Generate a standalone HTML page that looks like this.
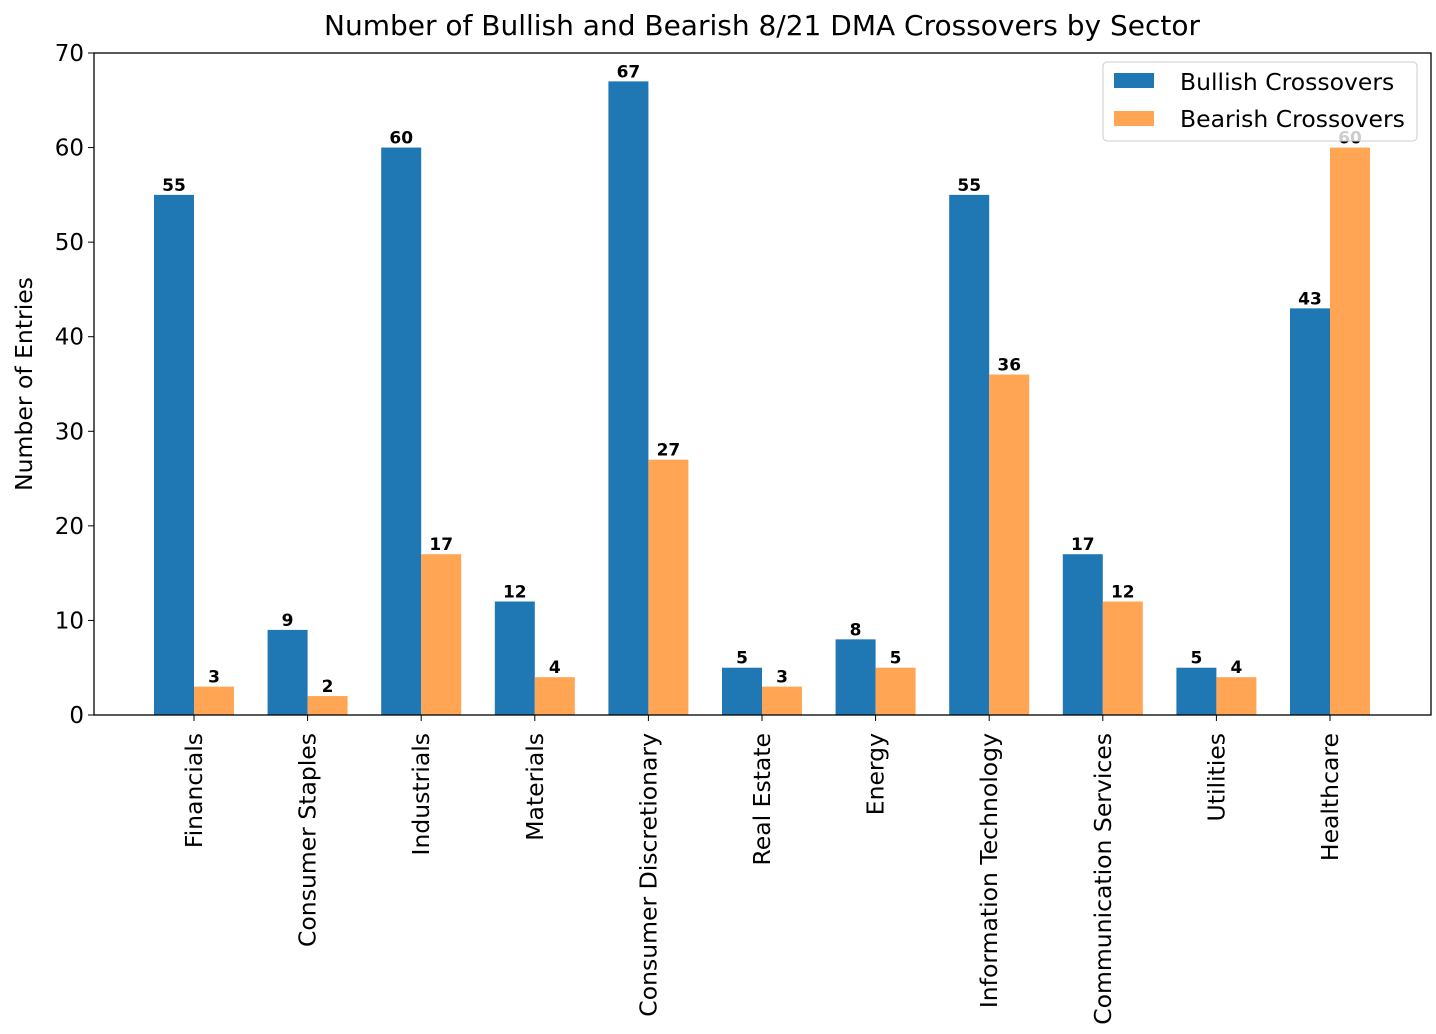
<!DOCTYPE html>
<html><head><meta charset="utf-8"><style>
body{margin:0;background:#fff;}
svg{display:block;font-family:"DejaVu Sans","Liberation Sans",sans-serif;}
</style></head><body>
<svg id="chart" width="1436" height="1034">
<text x="762" y="35" font-size="28" text-anchor="middle">Number of Bullish and Bearish 8/21 DMA Crossovers by Sector</text>
<text transform="translate(32,384) rotate(-90)" font-size="23.5" text-anchor="middle">Number of Entries</text>
<g id="bars"></g>
<g id="axes"></g>
<g id="legend">
<rect x="1103" y="62" width="314" height="79" rx="4" fill="#fff" fill-opacity="0.8" stroke="#ccc"/>
<rect x="1114" y="73" width="40" height="15" fill="#1f77b4"/>
<text x="1180" y="90" font-size="23.5">Bullish Crossovers</text>
<rect x="1114" y="111" width="40" height="15" fill="#ffa554"/>
<text x="1180" y="127" font-size="23.5">Bearish Crossovers</text>
</g>
</svg>
<script>
const categories=["Financials","Consumer Staples","Industrials","Materials","Consumer Discretionary","Real Estate","Energy","Information Technology","Communication Services","Utilities","Healthcare"];
const bullish=[55,9,60,12,67,5,8,55,17,5,43];
const bearish=[3,2,17,4,27,3,5,36,12,4,60];
const yTicks=[0,10,20,30,40,50,60,70];
const NS="http://www.w3.org/2000/svg";
const L=94,R=1431,T=53,B=715;
const y=v=>B-(v/70)*(B-T);
const x=i=>194+i*113.6;
const bw=40;
const bars=document.getElementById('bars'),axes=document.getElementById('axes');
function mk(tag,attrs,parent,txt){const e=document.createElementNS(NS,tag);for(const k in attrs)e.setAttribute(k,attrs[k]);if(txt!==undefined)e.textContent=txt;parent.appendChild(e);return e;}
categories.forEach((c,i)=>{
  [[bullish[i],x(i)-bw,"#1f77b4","bullish"],[bearish[i],x(i),"#ffa554","bearish"]].forEach(([v,x0,col,s])=>{
    const r=mk('rect',{x:x0,y:y(v),width:bw,height:B-y(v),fill:col},bars);
    
    
    const t=mk('text',{x:x0+bw/2,y:y(v)-4,'font-size':17,'font-weight':'bold','text-anchor':'middle'},bars,String(v));
    
    
  });
  mk('line',{x1:x(i),x2:x(i),y1:B,y2:B+6,stroke:'#000'},axes);
  const tl=mk('text',{transform:`translate(${x(i)+8},${B+18}) rotate(-90)`,'font-size':23.5,'text-anchor':'end'},axes,c);
  
  
});
yTicks.forEach(v=>{
  mk('line',{x1:L-6,x2:L,y1:y(v),y2:y(v),stroke:'#000'},axes);
  const t=mk('text',{x:L-10,y:y(v)+8,'font-size':23,'text-anchor':'end'},axes,String(v));
  
  
});
const f=mk('rect',{x:L,y:T,width:R-L,height:B-T,fill:'none',stroke:'#000','stroke-width':1.3},axes);


</script>
</body></html>
